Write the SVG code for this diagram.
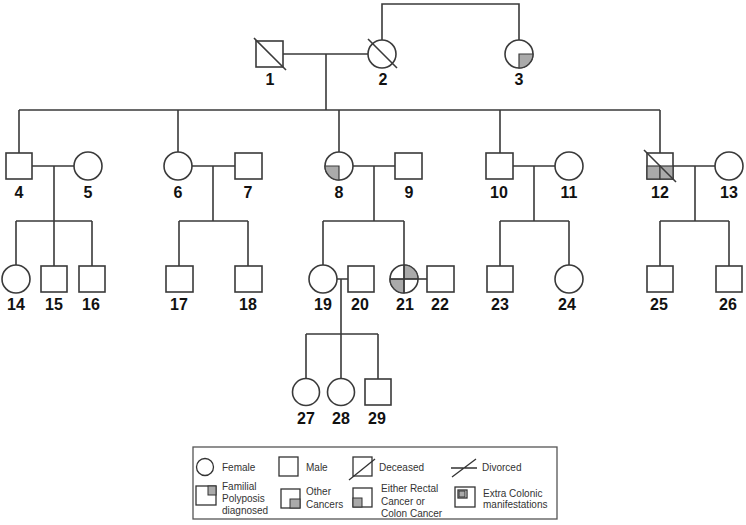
<svg xmlns="http://www.w3.org/2000/svg" width="746" height="525" viewBox="0 0 746 525">
<style>
.ln{fill:none;stroke:#3a3a3a;stroke-width:1.6}
.nd{fill:#fff;stroke:#3a3a3a;stroke-width:1.6}
.sh{fill:#aaa;stroke:#3a3a3a;stroke-width:1.2}
.lb{font-family:"Liberation Sans",Arial,sans-serif;font-weight:bold;font-size:16px;fill:#111;text-anchor:middle}
.lg{font-family:"Liberation Sans",Arial,sans-serif;font-size:10px;fill:#333}
.lgl{fill:#fff;stroke:#333;stroke-width:1.3}
.lgs{fill:#aaa;stroke:#333;stroke-width:1}
</style>
<rect width="746" height="525" fill="#fff"/>
<g id="connectors" class="ln">
<path d="M382,40 V4 H519 V40"/>
<path d="M283,54 H368 M326,54 V110"/>
<path d="M19,110 H660 M19,110 V153 M178,110 V152 M339,110 V152 M500,110 V153 M660,110 V153"/>
<path d="M32,166 H74 M54,166 V221 M16,221 H92 M16,221 V265 M54,221 V266 M92,221 V266"/>
<path d="M192,166 H235 M213,166 V221 M179,221 H248 M179,221 V266 M248,221 V266"/>
<path d="M353,166 H395 M374,166 V221 M323,221 H404 M323,221 V265 M404,221 V265"/>
<path d="M513,166 H555 M534,166 V221 M500,221 H569 M500,221 V266 M569,221 V265"/>
<path d="M673,166 H715 M695,166 V221 M660,221 H729 M660,221 V266 M729,221 V266"/>
<path d="M337,279 H348 M341,279 V334 M306,334 H378 M306,334 V379 M341,334 V379 M378,334 V379"/>
<path d="M418,279 H427"/>
</g>
<g id="n1"><rect class="nd" x="256" y="41" width="27" height="26"/><line class="ln" x1="254" y1="38" x2="286" y2="70"/><text class="lb" x="270" y="85">1</text></g>
<g id="n2"><circle class="nd" cx="382" cy="54" r="14"/><line class="ln" x1="368" y1="39" x2="397" y2="68"/><text class="lb" x="383" y="85">2</text></g>
<g id="n3"><circle class="nd" cx="519" cy="54" r="14"/><path class="sh" d="M519,54 H533 A14,14 0 0 1 519,68 Z"/><text class="lb" x="519" y="85">3</text></g>
<g id="n4"><rect class="nd" x="6" y="153" width="26" height="26"/><text class="lb" x="19" y="198">4</text></g>
<g id="n5"><circle class="nd" cx="88" cy="166" r="14"/><text class="lb" x="88" y="198">5</text></g>
<g id="n6"><circle class="nd" cx="178" cy="166" r="14"/><text class="lb" x="178" y="198">6</text></g>
<g id="n7"><rect class="nd" x="235" y="153" width="27" height="26"/><text class="lb" x="248" y="198">7</text></g>
<g id="n8"><circle class="nd" cx="339" cy="166" r="14"/><path class="sh" d="M339,166 H325 A14,14 0 0 0 339,180 Z"/><text class="lb" x="339" y="198">8</text></g>
<g id="n9"><rect class="nd" x="395" y="153" width="27" height="26"/><text class="lb" x="409" y="198">9</text></g>
<g id="n10"><rect class="nd" x="486" y="153" width="27" height="26"/><text class="lb" x="499" y="198">10</text></g>
<g id="n11"><circle class="nd" cx="569" cy="166" r="14"/><text class="lb" x="569" y="198">11</text></g>
<g id="n12"><rect class="nd" x="647" y="153" width="26" height="26"/><rect class="sh" x="647" y="166" width="13" height="13"/><rect class="sh" x="660" y="166" width="13" height="13"/><line class="ln" x1="644" y1="150" x2="676" y2="182"/><text class="lb" x="660" y="198">12</text></g>
<g id="n13"><circle class="nd" cx="729" cy="166" r="14"/><text class="lb" x="729" y="198">13</text></g>
<g id="n14"><circle class="nd" cx="16" cy="279" r="14"/><text class="lb" x="16" y="310">14</text></g>
<g id="n15"><rect class="nd" x="41" y="266" width="26" height="26"/><text class="lb" x="54" y="310">15</text></g>
<g id="n16"><rect class="nd" x="79" y="266" width="26" height="26"/><text class="lb" x="91" y="310">16</text></g>
<g id="n17"><rect class="nd" x="166" y="266" width="27" height="26"/><text class="lb" x="179" y="310">17</text></g>
<g id="n18"><rect class="nd" x="235" y="266" width="27" height="26"/><text class="lb" x="248" y="310">18</text></g>
<g id="n19"><circle class="nd" cx="323" cy="279" r="14"/><text class="lb" x="323" y="310">19</text></g>
<g id="n20"><rect class="nd" x="348" y="266" width="26" height="26"/><text class="lb" x="360" y="310">20</text></g>
<g id="n21"><circle class="nd" cx="404" cy="279" r="14"/><path class="sh" d="M404,279 V265 A14,14 0 0 1 418,279 Z"/><path class="sh" d="M404,279 H390 A14,14 0 0 0 404,293 Z"/><path class="ln" d="M390,279 H418 M404,265 V293"/><text class="lb" x="405" y="310">21</text></g>
<g id="n22"><rect class="nd" x="427" y="266" width="27" height="26"/><text class="lb" x="440" y="310">22</text></g>
<g id="n23"><rect class="nd" x="487" y="266" width="26" height="26"/><text class="lb" x="500" y="310">23</text></g>
<g id="n24"><circle class="nd" cx="569" cy="279" r="14"/><text class="lb" x="567" y="310">24</text></g>
<g id="n25"><rect class="nd" x="647" y="266" width="26" height="26"/><text class="lb" x="659" y="310">25</text></g>
<g id="n26"><rect class="nd" x="716" y="266" width="26" height="26"/><text class="lb" x="728" y="310">26</text></g>
<g id="n27"><circle class="nd" cx="306" cy="392" r="13.5"/><text class="lb" x="306" y="424">27</text></g>
<g id="n28"><circle class="nd" cx="341" cy="392" r="13.5"/><text class="lb" x="341" y="424">28</text></g>
<g id="n29"><rect class="nd" x="365" y="379" width="26" height="26"/><text class="lb" x="377" y="424">29</text></g>
<g id="legend">
<rect x="193" y="447" width="364" height="72" fill="#fff" stroke="#555" stroke-width="1.3"/>
<circle class="lgl" cx="205" cy="467" r="8.5"/>
<text class="lg" x="222" y="471">Female</text>
<rect class="lgl" x="279" y="457" width="19" height="19"/>
<text class="lg" x="306" y="471">Male</text>
<rect class="lgl" x="353" y="457" width="19" height="19"/>
<line x1="349" y1="480" x2="375" y2="459" stroke="#333" stroke-width="1.3"/>
<text class="lg" x="379" y="471">Deceased</text>
<path d="M451,468 H477 M452,477 L476,459" fill="none" stroke="#333" stroke-width="1.3"/>
<text class="lg" x="482" y="471">Divorced</text>
<rect class="lgl" x="196" y="486" width="20" height="19"/>
<rect class="lgs" x="208" y="486" width="8" height="9"/>
<text class="lg" x="222" y="490">Familial</text>
<text class="lg" x="222" y="502">Polyposis</text>
<text class="lg" x="222" y="514">diagnosed</text>
<rect class="lgl" x="281" y="489" width="19" height="19"/>
<rect class="lgs" x="290" y="499" width="10" height="9"/>
<text class="lg" x="306" y="495">Other</text>
<text class="lg" x="306" y="508">Cancers</text>
<rect class="lgl" x="353" y="488" width="19" height="19"/>
<rect class="lgs" x="353" y="498" width="9" height="9"/>
<text class="lg" x="381" y="492">Either Rectal</text>
<text class="lg" x="381" y="505">Cancer or</text>
<text class="lg" x="381" y="517">Colon Cancer</text>
<rect class="lgl" x="455" y="487" width="20" height="20"/>
<rect class="lgl" x="458" y="490" width="9" height="8" fill="none"/>
<rect class="lgs" x="459" y="491" width="6" height="6"/>
<text class="lg" x="483" y="497">Extra Colonic</text>
<text class="lg" x="483" y="508">manifestations</text>
</g>
</svg>
